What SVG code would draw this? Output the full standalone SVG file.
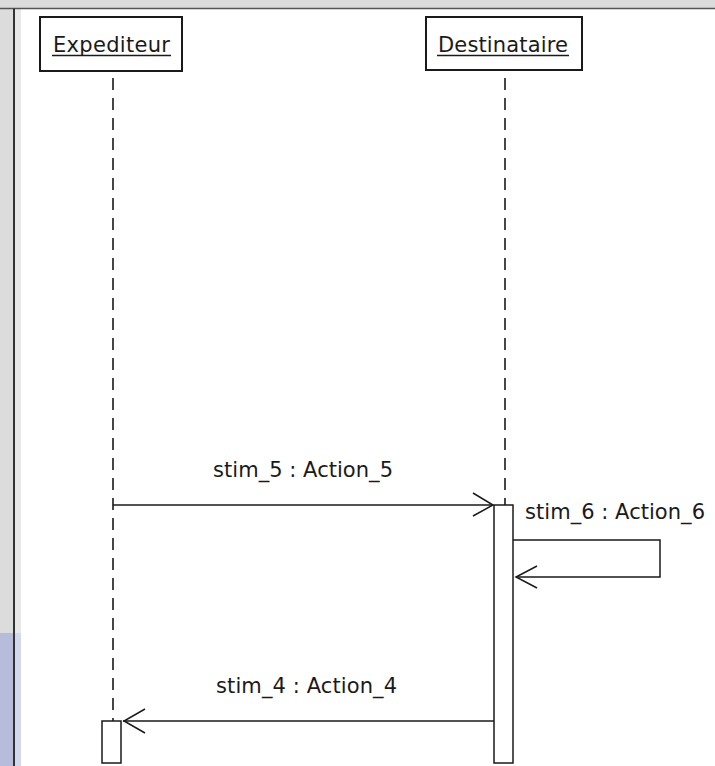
<svg xmlns="http://www.w3.org/2000/svg" width="715" height="766" viewBox="0 0 715 766">
<style>
.box{fill:#fff;stroke:#1a1a1a;stroke-width:2}
.life{stroke:#1a1a1a;stroke-width:1.6;stroke-dasharray:12 8;fill:none}
.msg{stroke:#1a1a1a;stroke-width:1.5;fill:none}
.act{fill:#fff;stroke:#1a1a1a;stroke-width:1.5}
.t{font-family:"DejaVu Sans",sans-serif;font-size:21px;fill:#1a1a1a}
</style>
<rect x="0" y="0" width="715" height="766" fill="#dcdcdc"/>
<rect x="0" y="633" width="14" height="133" fill="#b7bcdb"/>
<rect x="14" y="9" width="701" height="757" fill="#fff"/>
<rect x="15" y="9" width="6" height="624" fill="#e8e8e8"/>
<rect x="15" y="633" width="6" height="133" fill="#d4d8ec"/>
<line x1="0" y1="8.5" x2="715" y2="8.5" stroke="#555" stroke-width="1.5"/>
<line x1="14" y1="8.5" x2="14" y2="766" stroke="#333" stroke-width="2"/>
<g id="connectors">
<line class="life" x1="113" y1="78" x2="113" y2="721"/>
<line class="life" x1="505" y1="78" x2="505" y2="505"/>
<line class="msg" x1="113" y1="505" x2="493" y2="505"/>
<polyline class="msg" points="473,493 493,505 473,516"/>
<polyline class="msg" points="513,540 660,540 660,577 516,577"/>
<polyline class="msg" points="537,566 516,577 537,588"/>
<line class="msg" x1="494" y1="721" x2="123" y2="721"/>
<polyline class="msg" points="145,709 124,721 145,733"/>
<text class="t" x="213" y="477" textLength="180" lengthAdjust="spacing">stim_5 : Action_5</text>
<text class="t" x="525" y="519" textLength="180" lengthAdjust="spacing">stim_6 : Action_6</text>
<text class="t" x="216" y="693" textLength="181" lengthAdjust="spacing">stim_4 : Action_4</text>
</g>
<g id="expediteur">
<rect class="box" x="40" y="17" width="142" height="54"/>
<text class="t" x="53" y="52" textLength="117" lengthAdjust="spacing">Expediteur</text>
<line x1="52" y1="55.5" x2="171" y2="55.5" stroke="#1a1a1a" stroke-width="1.5"/>
</g>
<g id="destinataire">
<rect class="box" x="426" y="17" width="156" height="53"/>
<text class="t" x="438" y="52" textLength="130" lengthAdjust="spacing">Destinataire</text>
<line x1="437" y1="55.5" x2="569" y2="55.5" stroke="#1a1a1a" stroke-width="1.5"/>
</g>
<g id="act-destinataire">
<rect class="act" x="494" y="505" width="19" height="258"/>
</g>
<g id="act-expediteur">
<rect class="act" x="102" y="721" width="19" height="42"/>
</g>
</svg>
